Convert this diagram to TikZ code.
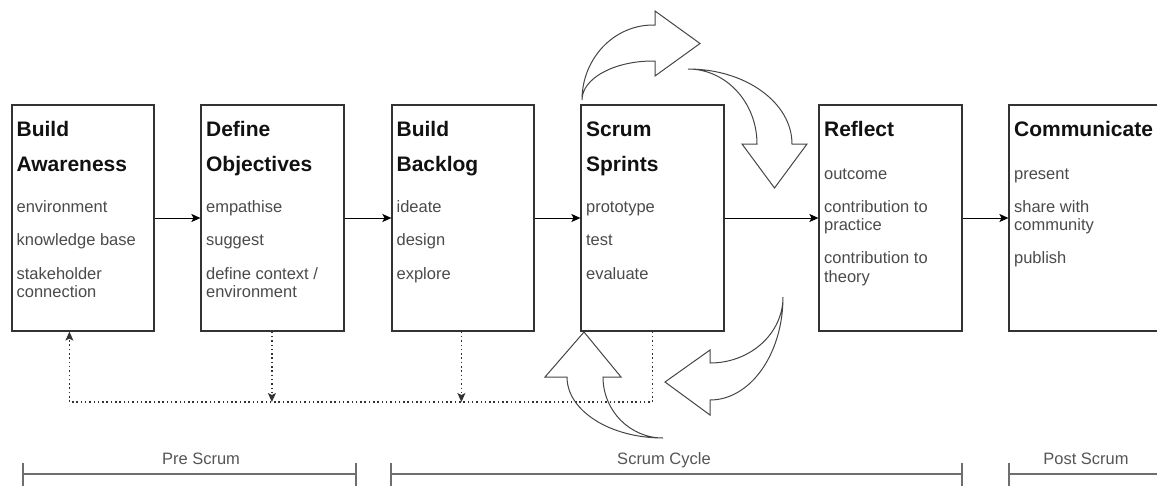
\documentclass[tikz,border=0pt]{standalone}
\usepackage{fontspec}
\setmainfont{Liberation Sans}
\usetikzlibrary{arrows.meta}
\definecolor{ink}{HTML}{333333}
\definecolor{titlec}{HTML}{111111}
\definecolor{itemc}{HTML}{4A4A4A}
\definecolor{labelc}{HTML}{555555}
\definecolor{shapec}{HTML}{454545}
\definecolor{bracketc}{HTML}{6E6E6E}
\tikzset{
  stage/.style={draw=ink, line width=1.2pt, rectangle, inner sep=0pt, minimum height=226pt},
  % multi-line nodes: the base anchor sits on the baseline of the last line
  title/.style={anchor=base west, inner sep=0pt, align=left, text=titlec,
    font=\bfseries\fontsize{21}{35}\selectfont},
  items/.style={anchor=base west, inner sep=0pt, align=left, text=itemc,
    font=\fontsize{16.5}{18.5}\selectfont},
  phase/.style={anchor=base, inner sep=0pt, text=labelc, font=\fontsize{16.5}{18.5}\selectfont},
  tip/.tip={Stealth[length=9pt, width=8pt, inset=2pt]},
  flow/.style={draw=black, line width=1pt, -tip},
  fb/.style={draw=ink, line width=1.2pt, dash pattern=on 1.5pt off 2.8pt},
  blockarrow/.style={draw=shapec, line width=1pt, line join=miter},
  bracket/.style={draw=bracketc, line width=1.3pt}
}
\begin{document}
\begin{tikzpicture}[x=1pt, y=-1pt]
\useasboundingbox (0,0) rectangle (1157,485);
\clip (0,0) rectangle (1157,485);

% stage boxes
\node[stage, minimum width=142pt] (b1) at (83,218) {};
\node[stage, minimum width=143pt] (b2) at (272.5,218) {};
\node[stage, minimum width=142pt] (b3) at (463,218) {};
\node[stage, minimum width=143pt] (b4) at (652.5,218) {};
\node[stage, minimum width=143pt] (b5) at (890.5,218) {};
\node[stage, minimum width=180pt] (b6) at (1099,218) {};

% titles
\node[title] (t1) at ([xshift=5pt,yshift=-67pt]b1.north west) {Build\\Awareness};
\node[title] (t2) at ([xshift=5.5pt,yshift=-67pt]b2.north west) {Define\\Objectives};
\node[title] (t3) at ([xshift=5pt,yshift=-67pt]b3.north west) {Build\\Backlog};
\node[title] (t4) at ([xshift=5.5pt,yshift=-67pt]b4.north west) {Scrum\\Sprints};
\node[title] (t5) at ([xshift=5.5pt,yshift=-32pt]b5.north west) {Reflect};
\node[title] (t6) at ([xshift=5.5pt,yshift=-32pt]b6.north west) {Communicate};

% activities
\node[items] (i1) at ([xshift=5pt,yshift=-193.5pt]b1.north west)
  {environment\\[15pt]knowledge base\\[15pt]stakeholder\\connection};
\node[items] (i2) at ([xshift=5.5pt,yshift=-193.5pt]b2.north west)
  {empathise\\[15pt]suggest\\[15pt]define context /\\environment};
\node[items] (i3) at ([xshift=5pt,yshift=-175pt]b3.north west)
  {ideate\\[15pt]design\\[15pt]explore};
\node[items] (i4) at ([xshift=5.5pt,yshift=-175pt]b4.north west)
  {prototype\\[15pt]test\\[15pt]evaluate};
\node[items] (i5) at ([xshift=5.5pt,yshift=-178pt]b5.north west)
  {outcome\\[14.5pt]contribution to\\practice\\[14.5pt]contribution to\\theory};
\node[items] (i6) at ([xshift=5.5pt,yshift=-159.5pt]b6.north west)
  {present\\[14.5pt]share with\\community\\[14.5pt]publish};

% forward flow
\draw[flow] (b1) -- (b2);
\draw[flow] (b2) -- (b3);
\draw[flow] (b3) -- (b4);
\draw[flow] (b4) -- (b5);
\draw[flow] (b5) -- (b6);

% feedback loop
\coordinate (fbline) at (0,402);
\coordinate (fbA) at ([xshift=72pt]b4.south west);
\coordinate (fbB) at ([xshift=58pt]b1.south west);
\coordinate (fbC) at ([xshift=71.5pt]b2.south west);
\coordinate (fbD) at ([xshift=70pt]b3.south west);
\draw[fb, -tip] (fbA) |- (fbB |- fbline) -- (fbB);
\draw[fb, -tip] (fbC) -- (fbC |- fbline);
\draw[fb, -tip] (fbD) -- (fbD |- fbline);

% curved block arrows around the sprint box
\draw[blockarrow] (582,100) arc[start angle=180, end angle=270, x radius=71, y radius=75]
  -- (655,25) -- (655,11) -- (700,43.5) -- (655,76) -- (655,61) -- (653,61)
  arc[start angle=270, end angle=180, x radius=71, y radius=39] -- cycle;
\draw[blockarrow] (688,69) arc[start angle=270, end angle=360, x radius=104, y radius=75]
  -- (807,144) -- (774.5,188) -- (742,144) -- (757,144)
  arc[start angle=0, end angle=-90, x radius=69, y radius=75] -- cycle;
\draw[blockarrow] (783,297) arc[start angle=0, end angle=90, x radius=73, y radius=103]
  -- (710,415) -- (665,382) -- (710,350) -- (710,363)
  arc[start angle=90, end angle=0, x radius=73, y radius=66] -- cycle;
\draw[blockarrow] (663,438) arc[start angle=90, end angle=180, x radius=96, y radius=61]
  -- (545,377) -- (584,332) -- (621,377) -- (603,377)
  arc[start angle=180, end angle=90, x radius=60, y radius=61] -- cycle;

% phase brackets
\draw[bracket] (23,463) -- (23,490) (23,474) -- (356,474) (356,463) -- (356,490);
\draw[bracket] (391,463) -- (391,490) (391,474) -- (962,474) (962,463) -- (962,490);
\draw[bracket] (1009,463) -- (1009,490) (1009,474) -- (1170,474);
\node[phase] (pre) at (201,464) {Pre Scrum};
\node[phase] (cyc) at (664,464) {Scrum Cycle};
\node[phase] (post) at (1086,464) {Post Scrum};
\end{tikzpicture}
\end{document}
